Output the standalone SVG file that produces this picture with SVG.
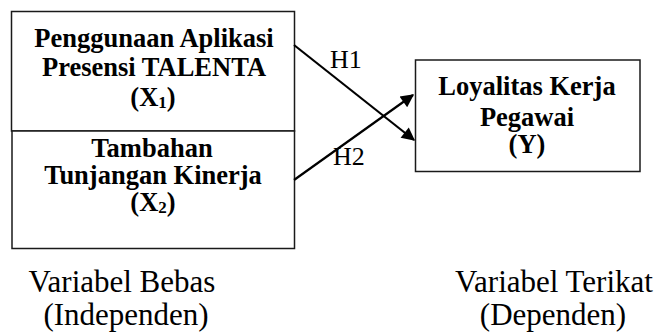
<svg xmlns="http://www.w3.org/2000/svg" width="659" height="336" viewBox="0 0 659 336">
<style>
  .box { fill: #ffffff; stroke: #1a1a1a; stroke-width: 1.5; }
  .bt { font-family: "Liberation Serif", "Times New Roman", serif; font-weight: bold; font-size: 26.5px; fill: #000; text-anchor: middle; }
  .lbl { font-family: "Liberation Serif", "Times New Roman", serif; font-size: 26px; fill: #000; }
  .cap { font-family: "Liberation Serif", "Times New Roman", serif; font-size: 31px; fill: #000; text-anchor: middle; }
  .conn { stroke: #000; stroke-width: 2.2; fill: none; marker-end: url(#arr); }
</style>
<defs>
  <marker id="arr" viewBox="0 0 10 10" refX="9" refY="5" markerWidth="7" markerHeight="6" markerUnits="strokeWidth" orient="auto">
    <path d="M0,0 L10,5 L0,10 Z" fill="#000"/>
  </marker>
</defs>
<rect width="659" height="336" fill="#ffffff"/>
<g id="x1">
  <rect class="box" x="11.5" y="11.5" width="283" height="119.5"/>
  <text class="bt" x="154" y="47" font-size="27">Penggunaan Aplikasi</text>
  <text class="bt" x="154" y="76" font-size="27">Presensi TALENTA</text>
  <text class="bt" x="153" y="106">(X<tspan font-size="17" dy="2">1</tspan><tspan dy="-2">)</tspan></text>
</g>
<g id="x2">
  <rect class="box" x="12" y="131" width="282.5" height="117.5"/>
  <text class="bt" x="152" y="157">Tambahan</text>
  <text class="bt" x="153" y="184">Tunjangan Kinerja</text>
  <text class="bt" x="153" y="211">(X<tspan font-size="17" dy="2">2</tspan><tspan dy="-2">)</tspan></text>
</g>
<g id="y">
  <rect class="box" x="415.5" y="60" width="224.5" height="111.5"/>
  <text class="bt" x="527" y="95">Loyalitas Kerja</text>
  <text class="bt" x="527" y="126">Pegawai</text>
  <text class="bt" x="527" y="153">(Y)</text>
</g>
<g id="connectors">
  <line class="conn" x1="294" y1="45" x2="414" y2="140"/>
  <line class="conn" x1="294" y1="180" x2="413" y2="95"/>
  <text class="lbl" x="330" y="68">H1</text>
  <text class="lbl" x="333" y="165">H2</text>
</g>
<g id="captions">
  <text class="cap" x="122" y="292">Variabel Bebas</text>
  <text class="cap" x="126" y="325">(Independen)</text>
  <text class="cap" x="554" y="292">Variabel Terikat</text>
  <text class="cap" x="553" y="325">(Dependen)</text>
</g>
</svg>
